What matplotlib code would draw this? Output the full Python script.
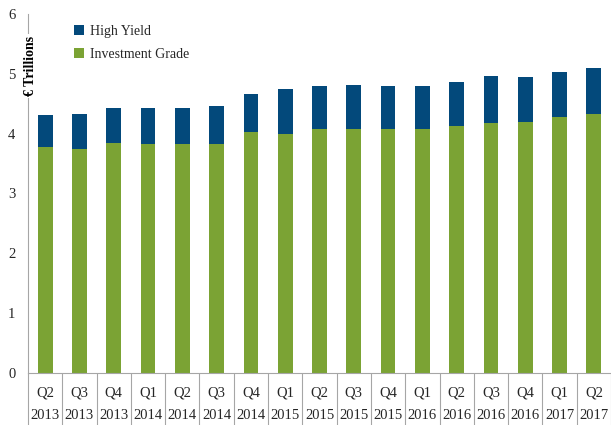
import numpy as np
import matplotlib
matplotlib.use("Agg")
import matplotlib.pyplot as plt

# ==========================================================
# DATA
# ==========================================================

quarters = ["Q2", "Q3", "Q4", "Q1", "Q2", "Q3", "Q4", "Q1", "Q2",
            "Q3", "Q4", "Q1", "Q2", "Q3", "Q4", "Q1", "Q2"]
years = ["2013", "2013", "2013", "2014", "2014", "2014", "2014", "2015", "2015",
         "2015", "2015", "2016", "2016", "2016", "2016", "2017", "2017"]

investment_grade = [3.78, 3.75, 3.85, 3.83, 3.83, 3.83, 4.03, 4.00, 4.07,
                    4.07, 4.07, 4.07, 4.13, 4.18, 4.20, 4.28, 4.33]
totals = [4.32, 4.33, 4.43, 4.43, 4.43, 4.47, 4.67, 4.75, 4.80,
          4.82, 4.80, 4.80, 4.87, 4.97, 4.95, 5.03, 5.10]
high_yield = [t - ig for t, ig in zip(totals, investment_grade)]

# ==========================================================
# STYLE
# ==========================================================

NAVY = "#03497b"
GREEN = "#7ba334"
AXIS = "#a6a6a6"
TXT = "#262626"

plt.rcParams["font.family"] = ["Liberation Serif", "DejaVu Serif"]

fig = plt.figure(figsize=(6.11, 4.25), dpi=100, facecolor="white")
ax = fig.add_axes([28 / 611, 52 / 425, 1 - 28 / 611, 359 / 425])

x = np.arange(len(quarters))
ax.bar(x, investment_grade, width=0.43, color=GREEN, label="Investment Grade", zorder=2)
ax.bar(x, high_yield, width=0.43, bottom=investment_grade, color=NAVY,
       label="High Yield", zorder=2)

ax.set_xlim(-0.5, len(quarters) - 0.5)
ax.set_ylim(0, 6)
ax.set_yticks(range(0, 7))
ax.tick_params(axis="y", length=0, labelsize=10.5, labelcolor=TXT, pad=9)

for s in ["top", "right"]:
    ax.spines[s].set_visible(False)
ax.spines["left"].set_color(AXIS)
ax.spines["bottom"].set_color(AXIS)
ax.spines["left"].set_linewidth(0.8)
ax.spines["bottom"].set_linewidth(0.8)

# category separators as long outward minor ticks
ax.set_xticks(np.arange(-0.5, len(quarters), 1.0), minor=True)
ax.set_xticks([])
ax.tick_params(axis="x", which="minor", length=38, width=0.8, color=AXIS,
               direction="out")

trans = ax.get_xaxis_transform()
for xi, q, yr in zip(x, quarters, years):
    ax.text(xi, -0.055, q, transform=trans, ha="center", va="center",
            fontsize=10.5, color=TXT)
    ax.text(xi, -0.119, yr, transform=trans, ha="center", va="center",
            fontsize=10.5, color=TXT)

# y label sitting on the axis line
ax.text(0.004, 0.855, "€ Trillions", transform=ax.transAxes, rotation=90,
        ha="center", va="center", fontsize=10, fontweight="bold", color="black",
        bbox=dict(facecolor="white", edgecolor="none", pad=1.5), zorder=5)

# legend
handles, labels = ax.get_legend_handles_labels()
leg = ax.legend(handles[::-1], labels[::-1], loc="upper left",
                bbox_to_anchor=(0.058, 1.005), frameon=False, fontsize=10,
                handlelength=0.7, handleheight=0.7, handletextpad=0.4,
                labelspacing=0.75, labelcolor=TXT)

fig.savefig("out.png", dpi=100, facecolor="white")
